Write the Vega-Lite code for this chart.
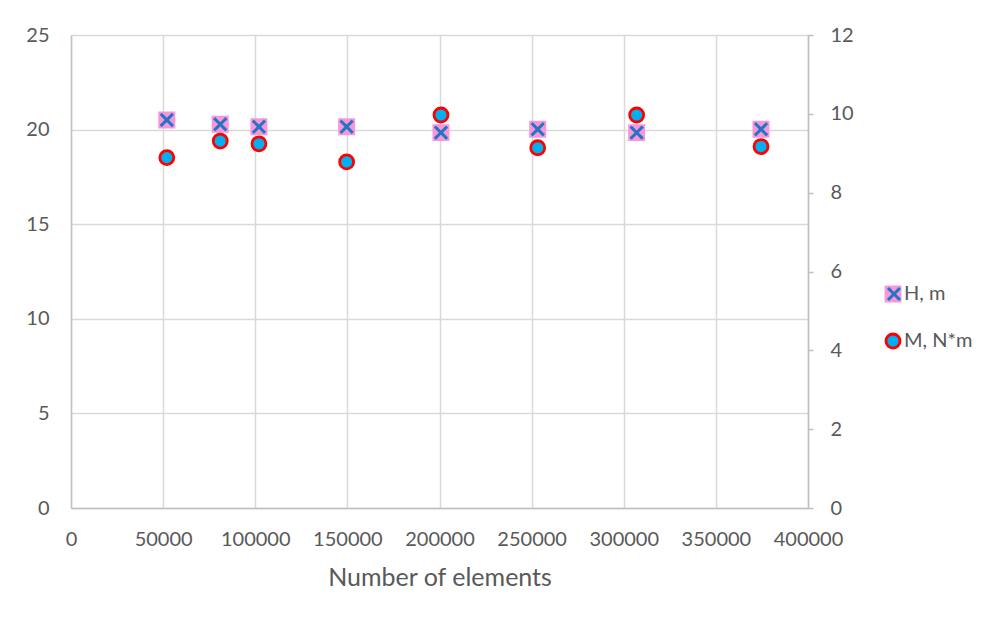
{
  "$schema": "https://vega.github.io/schema/vega-lite/v6.json",
  "width": 737,
  "height": 473,
  "autosize": {"type": "none"},
  "padding": {"left": 71, "top": 35, "right": 194, "bottom": 116},
  "background": "white",
  "config": {
    "view": {"stroke": null},
    "font": "Lato",
    "axis": {"labelFont": "Lato", "titleFont": "Lato", "labelColor": "#595959", "titleColor": "#595959", "titleFontWeight": "normal"},
    "legend": {"labelFont": "Lato"}
  },
  "data": {
    "values": [
      {"series": "H, m", "n": 52000, "value": 20.51},
      {"series": "H, m", "n": 81000, "value": 20.28},
      {"series": "H, m", "n": 102000, "value": 20.15},
      {"series": "H, m", "n": 149600, "value": 20.15},
      {"series": "H, m", "n": 200800, "value": 19.84},
      {"series": "H, m", "n": 253300, "value": 20.02},
      {"series": "H, m", "n": 307000, "value": 19.84},
      {"series": "H, m", "n": 374500, "value": 20.02},
      {"series": "M, N*m", "n": 52000, "value": 8.89},
      {"series": "M, N*m", "n": 81000, "value": 9.31},
      {"series": "M, N*m", "n": 102000, "value": 9.24},
      {"series": "M, N*m", "n": 149600, "value": 8.78},
      {"series": "M, N*m", "n": 200800, "value": 9.97},
      {"series": "M, N*m", "n": 253300, "value": 9.14},
      {"series": "M, N*m", "n": 307000, "value": 9.97},
      {"series": "M, N*m", "n": 374500, "value": 9.17}
    ]
  },
  "encoding": {
    "x": {
      "field": "n",
      "type": "quantitative",
      "scale": {"domain": [0, 400000], "nice": false, "zero": false},
      "axis": {
        "values": [0, 50000, 100000, 150000, 200000, 250000, 300000, 350000, 400000],
        "format": "d",
        "grid": true,
        "gridColor": "#d9d9d9",
        "gridWidth": 1.5,
        "ticks": false,
        "tickSize": 0,
        "domainColor": "#bfbfbf",
        "domainWidth": 1.5,
        "labelFontSize": 20,
        "labelPadding": 21,
        "labelFlush": false,
        "title": "Number of elements",
        "titleFontSize": 25,
        "titlePadding": 16
      }
    }
  },
  "layer": [
    {
      "transform": [{"filter": "datum.series === 'H, m'"}],
      "encoding": {
        "y": {
          "field": "value",
          "type": "quantitative",
          "scale": {"domain": [0, 25], "nice": false},
          "axis": {
            "orient": "left",
            "values": [0, 5, 10, 15, 20, 25],
            "grid": true,
            "gridColor": "#d9d9d9",
            "gridWidth": 1.5,
            "ticks": false,
            "tickSize": 0,
            "domainColor": "#c4c4c4",
            "domainWidth": 1.5,
            "labelFontSize": 20,
            "labelPadding": 22,
            "labelFlush": false,
            "title": null
          }
        }
      },
      "layer": [
        {
          "mark": {"type": "point", "filled": true, "size": 210, "strokeWidth": 2.5, "opacity": 1},
          "encoding": {
            "shape": {
              "field": "series", "type": "nominal",
              "scale": {"domain": ["H, m", "M, N*m"], "range": ["square", "circle"]},
              "legend": {
                "title": null, "orient": "none", "legendX": 812, "legendY": 249,
                "padding": 0, "symbolSize": 196, "symbolStrokeWidth": 2.8,
                "labelFontSize": 20, "labelColor": "#595959", "labelOffset": 1,
                "rowPadding": 21
              }
            },
            "fill": {
              "field": "series", "type": "nominal",
              "scale": {"domain": ["H, m", "M, N*m"], "range": ["#F797DA", "#00B0F0"]},
              "legend": {
                "title": null, "orient": "none", "legendX": 812, "legendY": 249,
                "padding": 0, "symbolSize": 196, "symbolStrokeWidth": 2.8,
                "labelFontSize": 20, "labelColor": "#595959", "labelOffset": 1,
                "rowPadding": 21
              }
            },
            "stroke": {
              "field": "series", "type": "nominal",
              "scale": {"domain": ["H, m", "M, N*m"], "range": ["#F797DA", "#FF0000"]},
              "legend": {
                "title": null, "orient": "none", "legendX": 812, "legendY": 249,
                "padding": 0, "symbolSize": 196, "symbolStrokeWidth": 2.8,
                "labelFontSize": 20, "labelColor": "#595959", "labelOffset": 1,
                "rowPadding": 21
              }
            }
          }
        },
        {
          "mark": {"type": "point", "shape": "M-1,-1L1,1M1,-1L-1,1", "filled": false, "size": 150, "strokeWidth": 3, "stroke": "#2474C4", "opacity": 1},
          "encoding": {
            "strokeDash": {
              "field": "series", "type": "nominal",
              "scale": {"domain": ["H, m"], "range": [[1, 0]]},
              "legend": {
                "title": null, "orient": "none", "legendX": 813, "legendY": 249,
                "padding": 0, "symbolType": "M-1,-1L1,1M1,-1L-1,1", "symbolSize": 144,
                "symbolStrokeWidth": 3, "symbolStrokeColor": "#2474C4", "symbolFillColor": "transparent",
                "labelFontSize": 20, "labelOpacity": 0, "labelOffset": 1
              }
            }
          }
        }
      ]
    },
    {
      "transform": [{"filter": "datum.series === 'M, N*m'"}],
      "mark": {"type": "point", "filled": true, "size": 196, "strokeWidth": 2.8, "opacity": 1},
      "encoding": {
        "y": {
          "field": "value",
          "type": "quantitative",
          "scale": {"domain": [0, 12], "nice": false},
          "axis": {
            "orient": "right",
            "values": [0, 2, 4, 6, 8, 10, 12],
            "grid": false,
            "ticks": true,
            "tickSize": 5,
            "tickColor": "#bfbfbf",
            "tickWidth": 1.5,
            "domainColor": "#bfbfbf",
            "domainWidth": 1.5,
            "labelFontSize": 20,
            "labelPadding": 17,
            "labelFlush": false,
            "title": null
          }
        },
        "shape": {"field": "series", "type": "nominal", "scale": {"domain": ["H, m", "M, N*m"], "range": ["square", "circle"]}},
        "fill": {"field": "series", "type": "nominal", "scale": {"domain": ["H, m", "M, N*m"], "range": ["#F797DA", "#00B0F0"]}},
        "stroke": {"field": "series", "type": "nominal", "scale": {"domain": ["H, m", "M, N*m"], "range": ["#F797DA", "#FF0000"]}}
      }
    }
  ],
  "resolve": {"scale": {"y": "independent"}}
}
